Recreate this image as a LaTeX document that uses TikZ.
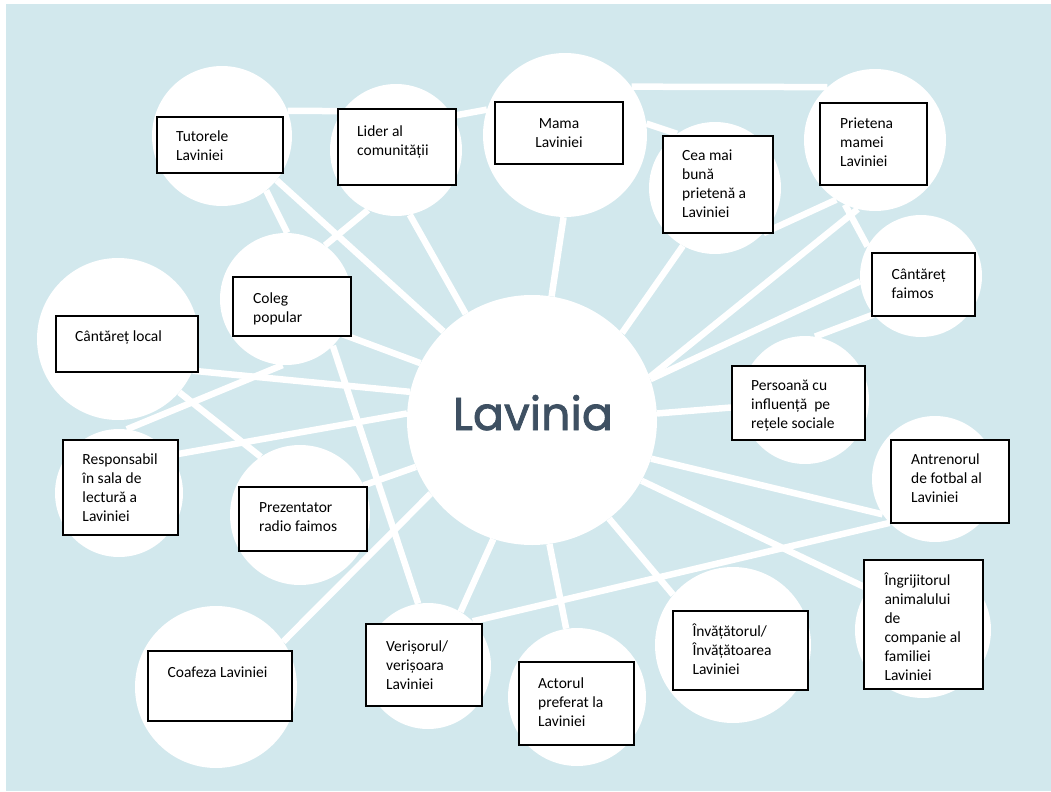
\documentclass[tikz,border=0pt]{standalone}
\usepackage{fontspec}
\setmainfont{Carlito}
\newfontfamily\titlefont{Poppins}[FakeBold=1.6]
\usetikzlibrary{fit}
\definecolor{bgblue}{RGB}{210,232,237}
\definecolor{titlecol}{RGB}{62,80,98}
\newcommand\ml[1]{\parbox[t]{170bp}{\raggedright #1}}
\newcommand\mlc[1]{\parbox[t]{128bp}{\centering #1}}
\begin{document}
\begin{tikzpicture}[x=1bp,y=-1bp,
  bub/.style={circle,fill=white,draw=none,inner sep=0pt,minimum size=#1bp},
  link/.style={draw=white,line width=6.5bp},
  box/.style={draw=black,fill=white,line width=1.1bp,inner sep=0pt},
  txt/.style={inner sep=0pt,font=\fontsize{15.5bp}{19bp}\selectfont}]
\useasboundingbox (0,0) rectangle (1051,792);
\fill[white] (0,0) rectangle (1051,792);
\fill[bgblue] (6,4) rectangle (1051,791);
% bubbles
\node[bub=250] (L) at (532,420) {};
\node[bub=140] (T) at (222,136) {};
\node[bub=132] (Li) at (396,150) {};
\node[bub=164] (M) at (565,135) {};
\node[bub=132] (Ce) at (715,188) {};
\node[bub=142] (P) at (875,140) {};
\node[bub=122] (CF) at (921,276) {};
\node[bub=128] (Pe) at (805,400) {};
\node[bub=126] (A) at (935,479) {};
\node[bub=136] (I) at (923,630) {};
\node[bub=156] (Iv) at (733,645) {};
\node[bub=138] (Ac) at (577,697) {};
\node[bub=126] (V) at (428,666) {};
\node[bub=162] (Co) at (216,687) {};
\node[bub=140] (Pr) at (300,515) {};
\node[bub=128] (R) at (119,493) {};
\node[bub=162] (CL) at (118,339) {};
\node[bub=132] (Cg) at (286,299) {};
% links
\draw[link] (T.21) -- (Li.144);
\draw[link] (Li.31) -- (M.162);
\draw[link] (M.36) -- (P.132);
\draw[link] (M.8) -- (Ce.125.5);
\draw[link] (M.269) -- (L.81);
\draw[link] (Ce.241.6) -- (L.44);
\draw[link] (Ce.317.6) -- (P.237.8);
\draw[link] (P.256.4) -- (L.20.8);
\draw[link] (P.245.9) -- (CF.151.2);
\draw[link] (CF.185.4) -- (L.19.5);
\draw[link] (CF.219.8) -- (Pe.81.4);
\draw[link] (L.3.3) -- (Pe.186.5);
\draw[link] (L.342.3) -- (A.214.3);
\draw[link] (L.331) -- (I.143.3);
\draw[link] (L.308) -- (Iv.140.3);
\draw[link] (L.278.3) -- (Ac.99.9);
\draw[link] (L.252.1) -- (V.59.7);
\draw[link] (L.216.3) -- (Co.34.6);
\draw[link] (V.45) -- (A.224.8);
\draw[link] (L.202.1) -- (Pr.25.8);
\draw[link] (L.177) -- (R.36.5);
\draw[link] (L.167.7) -- (CL.337.9);
\draw[link] (R.83.4) -- (Cg.267.6);
\draw[link] (CL.319.6) -- (Pr.124.5);
\draw[link] (Cg.315.8) -- (V.99);
\draw[link] (Cg.328.4) -- (L.153.8);
\draw[link] (T.309.7) -- (Cg.89);
\draw[link] (T.321.4) -- (L.135.6);
\draw[link] (Li.245.1) -- (Cg.54.7);
\draw[link] (Li.282.6) -- (L.122.3);
% title
\node[inner sep=0pt,anchor=base,text=titlecol,font=\titlefont\fontsize{46bp}{50bp}\selectfont] (title) at (533,430) {Lavinia};
% boxes
\node[box,fit={(157,117) (283,173)}] (bT) {};
\node[box,fit={(338,109) (456,185)}] (bLi) {};
\node[box,fit={(495,102) (623,164)}] (bM) {};
\node[box,fit={(663,136) (773,233)}] (bCe) {};
\node[box,fit={(820,103) (927,185)}] (bP) {};
\node[box,fit={(872,253) (975,316)}] (bCF) {};
\node[box,fit={(732,366) (865,440)}] (bPe) {};
\node[box,fit={(891,440) (1009,523)}] (bA) {};
\node[box,fit={(864,560) (983,689)}] (bI) {};
\node[box,fit={(673,611) (808,690)}] (bIv) {};
\node[box,fit={(519,662) (634,745)}] (bAc) {};
\node[box,fit={(366,624) (482,706)}] (bV) {};
\node[box,fit={(148,651) (292,721)}] (bCo) {};
\node[box,fit={(239,487) (367,551)}] (bPr) {};
\node[box,fit={(63,440) (178,535)}] (bR) {};
\node[box,fit={(56,316) (198,372)}] (bCL) {};
\node[box,fit={(233,277) (351,336)}] (bCg) {};
% texts
\node[txt,anchor=base west] (tT) at (176,141.5) {\ml{Tutorele\\Laviniei}};
\node[txt,anchor=base west] (tLi) at (357,136) {\ml{Lider al\\comunității}};
\node[txt,anchor=base] (tM) at (559,128) {\mlc{Mama\\Laviniei}};
\node[txt,anchor=base west] (tCe) at (682,160) {\ml{Cea mai\\bună\\prietenă a\\Laviniei}};
\node[txt,anchor=base west] (tP) at (840,128.5) {\ml{Prietena\\mamei\\Laviniei}};
\node[txt,anchor=base west] (tCF) at (891.5,279.3) {\ml{Cântăreț\\faimos}};
\node[txt,anchor=base west] (tPe) at (751,390) {\ml{Persoană cu\\influență\ \ pe\\rețele sociale}};
\node[txt,anchor=base west] (tR) at (82.3,464.5) {\ml{Responsabil\\în sala de\\lectură a\\Laviniei}};
\node[txt,anchor=base west] (tPr) at (259,512) {\ml{Prezentator\\radio faimos}};
\node[txt,anchor=base west] (tA) at (911,464.5) {\ml{Antrenorul\\de fotbal al\\Laviniei}};
\node[txt,anchor=base west] (tI) at (884.3,585) {\ml{Îngrijitorul\\animalului\\de\\companie al\\familiei\\Laviniei}};
\node[txt,anchor=base west] (tIv) at (692.3,636) {\ml{Învățătorul/\\Învățătoarea\\Laviniei}};
\node[txt,anchor=base west] (tAc) at (538,688) {\ml{Actorul\\preferat la\\Laviniei}};
\node[txt,anchor=base west] (tV) at (386,651) {\ml{Verișorul/\\verișoara\\Laviniei}};
\node[txt,anchor=base west] (tCo) at (167.5,677) {\ml{Coafeza Laviniei}};
\node[txt,anchor=base west] (tCL) at (75,341.5) {\ml{Cântăreț local}};
\node[txt,anchor=base west] (tCg) at (253,303) {\ml{Coleg\\popular}};
\end{tikzpicture}
\end{document}
